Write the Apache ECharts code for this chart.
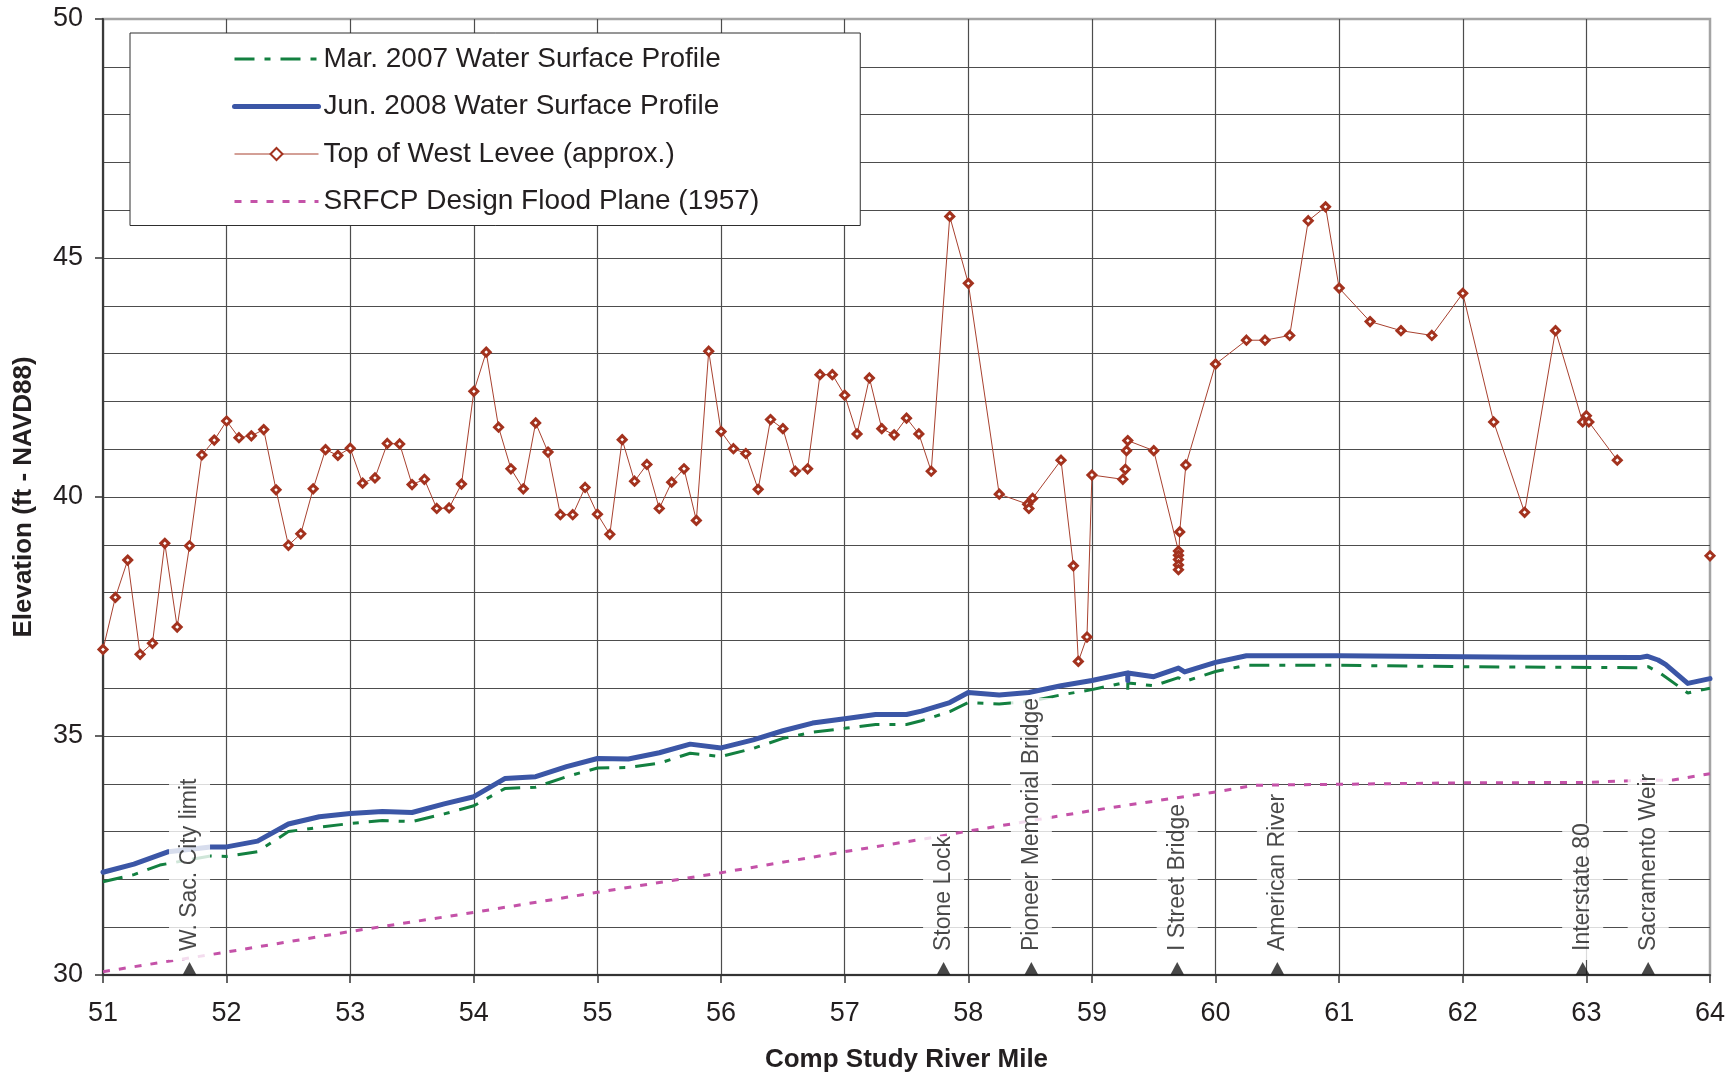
<!DOCTYPE html>
<html>
<head>
<meta charset="utf-8">
<script src="https://cdn.jsdelivr.net/npm/echarts@6/dist/echarts.min.js"></script>
<style>
html,body{margin:0;padding:0;background:#fff;}
#chart{width:1736px;height:1078px;}
</style>
</head>
<body>
<div id="chart"></div>
<script>
// ---------------- data ----------------
const xTicksMin = 51, xTicksMax = 64;
const yTicksMin = 30, yTicksMax = 50;

// Top of West Levee (approx.)  (null = gap in the line)
const leveeMiles = [50.95, 51.0, 51.1, 51.2, 51.3, 51.4, 51.5, 51.6, 51.7, 51.8, 51.9,
  52.0, 52.1, 52.2, 52.3, 52.4, 52.5, 52.6, 52.7, 52.8, 52.9,
  53.0, 53.1, 53.2, 53.3, 53.4, 53.5, 53.6, 53.7, 53.8, 53.9,
  54.0, 54.1, 54.2, 54.3, 54.4, 54.5, 54.6, 54.7, 54.8, 54.9,
  55.0, 55.1, 55.2, 55.3, 55.4, 55.5, 55.6, 55.7, 55.8, 55.9,
  56.0, 56.1, 56.2, 56.3, 56.4, 56.5, 56.6, 56.7, 56.8, 56.9,
  57.0, 57.1, 57.2, 57.3, 57.4, 57.5, 57.6, 57.7, 57.85,
  58.0, 58.25, 58.48, 58.49, 58.52, 58.75, 58.85, 58.89, 58.96,
  59.0, 59.25, 59.27, 59.28, 59.29, 59.5, 59.7, 59.7, 59.7, 59.7, 59.7, 59.71, 59.76,
  60.0, 60.25, 60.4, 60.6, 60.75, 60.89, 61.0, 61.25, 61.5, 61.75,
  62.0, 62.25, 62.5, 62.75, 62.97, 63.0, 63.02, 63.25, 63.6, 64.0, 64.05];
const leveeElev = [36.1, 36.81, 37.90, 38.68, 36.71, 36.94, 39.03, 37.28, 38.98, 40.88, 41.19,
  41.59, 41.24, 41.28, 41.41, 40.15, 38.99, 39.23, 40.17, 40.99, 40.87,
  41.02, 40.29, 40.40, 41.12, 41.11, 40.26, 40.37, 39.76, 39.77, 40.27,
  42.21, 43.03, 41.46, 40.59, 40.17, 41.55, 40.94, 39.63, 39.63, 40.20,
  39.64, 39.22, 41.20, 40.33, 40.68, 39.76, 40.31, 40.59, 39.51, 43.05,
  41.37, 41.01, 40.91, 40.16, 41.62, 41.43, 40.54, 40.59, 42.56, 42.56,
  42.13, 41.32, 42.49, 41.43, 41.30, 41.65, 41.32, 40.54, 45.87,
  44.47, 40.06, 39.85, 39.76, 39.97, 40.77, 38.56, 36.56, 37.07,
  40.46, 40.37, 40.58, 40.97, 41.18, 40.97, 38.87, 38.78, 38.69, 38.58, 38.48, 39.27, 40.67,
  42.78, 43.28, 43.28, 43.38, 45.78, 46.07, 44.37, 43.67, 43.48, 43.38,
  44.26, 41.57, 39.68, 43.48, 41.57, 41.70, 41.57, 40.77, null, 38.77, 38.97];

// Jun. 2008 Water Surface Profile
const jun2008Miles = [51.0, 51.25, 51.53, 51.87, 52.0, 52.25, 52.5, 52.75, 53.0, 53.26, 53.5, 53.76,
  54.0, 54.25, 54.5, 54.75, 55.0, 55.25, 55.5, 55.75, 56.0, 56.26, 56.5, 56.74,
  57.0, 57.25, 57.5, 57.62, 57.85, 58.0, 58.25, 58.49, 58.75, 59.0, 59.25, 59.29, 59.29, 59.29,
  59.5, 59.7, 59.75, 60.0, 60.25, 61.0, 62.0, 62.5, 63.43, 63.49, 63.58, 63.64, 63.82, 64.0];
const jun2008Elev = [32.15, 32.32, 32.58, 32.68, 32.68, 32.80, 33.16, 33.31, 33.38, 33.42, 33.40, 33.58,
  33.73, 34.11, 34.15, 34.36, 34.53, 34.52, 34.65, 34.83, 34.75, 34.92, 35.11, 35.27,
  35.36, 35.45, 35.45, 35.52, 35.70, 35.91, 35.86, 35.91, 36.05, 36.16, 36.30, 36.32, 36.16, 36.32,
  36.24, 36.42, 36.34, 36.54, 36.68, 36.68, 36.66, 36.65, 36.64, 36.67, 36.59, 36.50, 36.10, 36.20];

// Mar. 2007 Water Surface Profile
const mar2007Miles = [51.0, 51.25, 51.46, 51.87, 52.0, 52.25, 52.5, 52.75, 53.0, 53.26, 53.5, 53.76,
  54.0, 54.25, 54.5, 54.75, 55.0, 55.25, 55.5, 55.75, 56.0, 56.26, 56.5, 56.74,
  57.0, 57.25, 57.5, 57.62, 57.85, 58.0, 58.25, 58.49, 58.75, 59.0, 59.25, 59.29, 59.29, 59.29,
  59.5, 59.7, 59.75, 60.0, 60.25, 61.0, 62.0, 63.43, 63.5, 63.6, 63.82, 64.0];
const mar2007Elev = [31.95, 32.10, 32.30, 32.49, 32.48, 32.58, 33.00, 33.09, 33.17, 33.23, 33.21, 33.37,
  33.54, 33.90, 33.93, 34.15, 34.33, 34.34, 34.43, 34.64, 34.57, 34.74, 34.95, 35.08,
  35.16, 35.24, 35.24, 35.32, 35.51, 35.70, 35.67, 35.72, 35.86, 35.97, 36.11, 36.11, 35.97, 36.11,
  36.05, 36.22, 36.14, 36.35, 36.48, 36.48, 36.45, 36.43, 36.45, 36.31, 35.90, 36.00];

// SRFCP Design Flood Plane (1957)
const srfcpMiles = [51.0, 52.0, 53.0, 54.0, 55.0, 56.0, 57.0, 57.65, 58.0, 59.0, 59.56, 60.0, 60.32,
  61.0, 62.0, 63.0, 63.3, 63.7, 64.0];
const srfcpElev = [30.07, 30.48, 30.91, 31.31, 31.73, 32.14, 32.58, 32.85, 33.01, 33.44, 33.66, 33.83, 33.97,
  33.99, 34.02, 34.03, 34.06, 34.08, 34.21];

// Landmarks along the river
const landmarkMiles = [51.7, 57.8, 58.51, 59.69, 60.5, 62.97, 63.5];
const landmarkNames = ['W. Sac. City limit', 'Stone Lock', 'Pioneer Memorial Bridge', 'I Street Bridge',
  'American River', 'Interstate 80', 'Sacramento Weir'];

const seriesNames = ['Mar. 2007 Water Surface Profile', 'Jun. 2008 Water Surface Profile',
  'Top of West Levee (approx.)', 'SRFCP Design Flood Plane (1957)'];
const xAxisTitle = 'Comp Study River Mile';
const yAxisTitle = 'Elevation (ft - NAVD88)';

// ---------------- build ----------------
const pairs = (xs, ys) => xs.map((x, i) => [x, ys[i]]);
const FONT = "'Liberation Sans', Arial, Helvetica, sans-serif";
const TXT = '#231f20';
const GRIDC = '#4d4d4d';

const leveeData = leveeMiles.map((x, i) => {
  const item = { value: [x, leveeElev[i]] };
  if (i === 0 || i === leveeMiles.length - 1) item.symbol = 'none';
  return item;
});

const legendItems = seriesNames.map((n, i) =>
  i === 2 ? { name: n } : { name: n, itemStyle: { opacity: 0 } });

const chart = echarts.init(document.getElementById('chart'), null, { renderer: 'canvas' });
chart.setOption({
  animation: false,
  backgroundColor: '#ffffff',
  textStyle: { fontFamily: FONT, color: TXT },
  grid: {
    left: 103, right: 26, top: 19, bottom: 103,
    show: true, borderColor: '#a4a4a4', borderWidth: 2.5, backgroundColor: 'transparent'
  },
  legend: {
    orient: 'vertical',
    left: 130, top: 33,
    data: legendItems,
    selectedMode: false,
    backgroundColor: '#ffffff',
    borderColor: '#2e2e2e',
    borderWidth: 1,
    borderRadius: 0,
    padding: [12, 101, 10, 102],
    itemGap: 19.5,
    itemWidth: 84,
    itemHeight: 15,
    lineStyle: { width: 'inherit' },
    textStyle: { fontFamily: FONT, fontSize: 28, color: TXT, lineHeight: 28 }
  },
  xAxis: {
    type: 'value',
    min: xTicksMin, max: xTicksMax, interval: 1,
    name: xAxisTitle,
    nameLocation: 'middle',
    nameGap: 72,
    nameTextStyle: { fontFamily: FONT, fontSize: 26, fontWeight: 'bold', color: TXT },
    axisLine: { show: true, onZero: false, lineStyle: { color: '#333', width: 2 } },
    axisTick: { show: true, inside: false, length: 8, lineStyle: { color: '#333', width: 1.5 } },
    axisLabel: { fontFamily: FONT, fontSize: 27, color: TXT, margin: 25 },
    splitLine: { show: true, showMaxLine: false, lineStyle: { color: GRIDC, width: 1.2 } }
  },
  yAxis: {
    type: 'value',
    min: yTicksMin, max: yTicksMax, interval: 5,
    name: yAxisTitle,
    nameLocation: 'middle',
    nameRotate: 90,
    nameGap: 66,
    nameTextStyle: { fontFamily: FONT, fontSize: 26, fontWeight: 'bold', color: TXT },
    axisLine: { show: true, onZero: false, lineStyle: { color: '#3a3a3a', width: 2 } },
    axisTick: { show: true, inside: false, length: 8, lineStyle: { color: '#333', width: 1.5 } },
    axisLabel: { fontFamily: FONT, fontSize: 27, color: TXT, margin: 20 },
    minorTick: { show: false, splitNumber: 5 },
    splitLine: { show: true, showMaxLine: false, lineStyle: { color: GRIDC, width: 1.2 } },
    minorSplitLine: { show: true, lineStyle: { color: GRIDC, width: 1.2 } }
  },
  series: [
    {
      name: seriesNames[0],
      type: 'line',
      data: pairs(mar2007Miles, mar2007Elev),
      symbol: 'none',
      z: 3,
      lineStyle: { color: '#138040', width: 3, type: [20, 10, 6, 10] },
      itemStyle: { color: '#138040' },
      emphasis: { disabled: true }
    },
    {
      name: seriesNames[1],
      type: 'line',
      data: pairs(jun2008Miles, jun2008Elev),
      symbol: 'none',
      z: 4,
      lineStyle: { color: '#3b56a6', width: 5, cap: 'round', join: 'round' },
      itemStyle: { color: '#3b56a6' },
      emphasis: { disabled: true }
    },
    {
      name: seriesNames[2],
      type: 'line',
      data: leveeData,
      symbol: 'diamond',
      symbolSize: 8,
      clip: false,
      connectNulls: false,
      z: 5,
      lineStyle: { color: '#a8412f', width: 1 },
      itemStyle: { color: '#ffffff', borderColor: '#a3321e', borderWidth: 3 },
      emphasis: { disabled: true }
    },
    {
      name: seriesNames[3],
      type: 'line',
      data: pairs(srfcpMiles, srfcpElev),
      symbol: 'none',
      z: 3,
      lineStyle: { color: '#c452a8', width: 3, type: [7, 9] },
      itemStyle: { color: '#c452a8' },
      emphasis: { disabled: true }
    },
    {
      name: 'landmarks',
      type: 'scatter',
      data: landmarkMiles.map((x, i) => [x, yTicksMin, landmarkNames[i]]),
      symbol: 'triangle',
      symbolSize: [14, 13],
      symbolOffset: [0, -6.5],
      clip: false,
      z: 10,
      itemStyle: { color: '#1a1a1a' },
      emphasis: { disabled: true },
      label: {
        show: true,
        position: 'top',
        distance: 2,
        rotate: 90,
        align: 'left',
        verticalAlign: 'middle',
        formatter: p => p.data[2],
        fontFamily: FONT,
        fontSize: 23,
        lineHeight: 23,
        color: '#1a1a1a',
        backgroundColor: '#ffffff',
        padding: [9, 0, 9, 9]
      }
    }
  ]
});
</script>
</body>
</html>
